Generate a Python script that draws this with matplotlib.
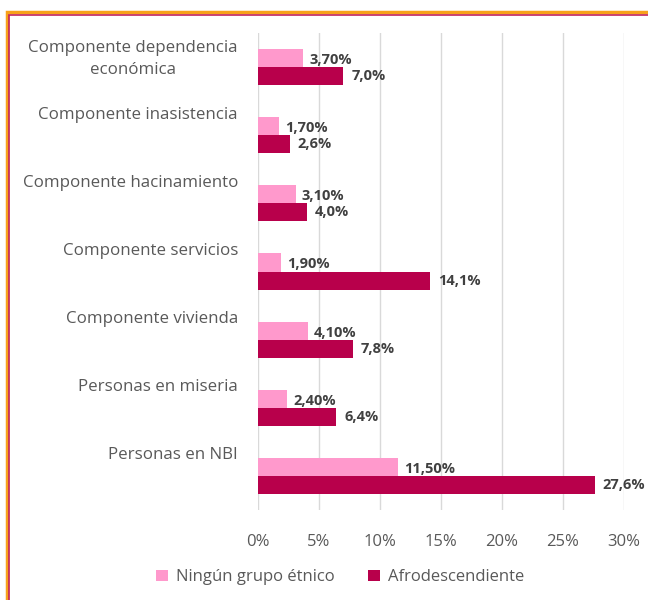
import matplotlib.pyplot as plt
import numpy as np
from matplotlib.patches import Rectangle
from matplotlib.transforms import blended_transform_factory, offset_copy

plt.rcParams['font.family'] = ['Open Sans', 'DejaVu Sans']

# datos
categorias = ['Componente dependencia\neconómica', 'Componente inasistencia',
              'Componente hacinamiento', 'Componente servicios',
              'Componente vivienda', 'Personas en miseria', 'Personas en NBI']
ninguno = [3.7, 1.7, 3.1, 1.9, 4.1, 2.4, 11.5]
afro = [7.0, 2.6, 4.0, 14.1, 7.8, 6.4, 27.6]
ticks = [0, 5, 10, 15, 20, 25, 30]

c_rosa = '#FF99CC'
c_afro = '#B8004B'

fig = plt.figure(figsize=(6.48, 6.0), dpi=100)
ax = fig.add_axes([0.398, 0.15, 0.565, 0.795])

y = np.arange(len(categorias))
h = 0.265
ax.barh(y - h / 2, ninguno, height=h, color=c_rosa, label='Ningún grupo étnico')
ax.barh(y + h / 2, afro, height=h, color=c_afro, label='Afrodescendiente')

# etiquetas de valores
for i in range(len(categorias)):
    t1 = offset_copy(ax.transData, fig=fig, x=6, y=-2, units='dots')
    ax.text(ninguno[i], y[i] - h / 2, f'{ninguno[i]:.2f}%'.replace('.', ','), transform=t1,
            ha='left', va='center', fontsize=10.5, fontweight='bold', color='#404040')
    t2 = offset_copy(ax.transData, fig=fig, x=8, y=0, units='dots')
    ax.text(afro[i], y[i] + h / 2, f'{afro[i]:.1f}%'.replace('.', ','), transform=t2,
            ha='left', va='center', fontsize=10.5, fontweight='bold', color='#404040')

ax.set_ylim(len(categorias) - 0.5, -0.5)
ax.set_xlim(0, 30)
ax.set_xticks(ticks)
ax.set_xticklabels([f'{t}%' for t in ticks], fontsize=12, color='#595959')
ax.tick_params(axis='x', length=0, pad=17)
ax.set_yticks([])
ax.grid(axis='x', color='#D9D9D9', linewidth=1)
ax.set_axisbelow(True)
for s in ax.spines.values():
    s.set_visible(False)

# nombres de categorías (desplazados hacia arriba como en el original)
tr = offset_copy(blended_transform_factory(ax.transAxes, ax.transData), fig=fig, x=-20, y=0, units='dots')
for i, cat in enumerate(categorias):
    off = 0.12 if '\n' in cat else 0.3
    ax.text(0, y[i] - off, cat, transform=tr, ha='right', va='center',
            multialignment='center', fontsize=12.2, color='#595959', linespacing=1.45)

fig.legend(loc='center', bbox_to_anchor=(0.525, 0.038), ncol=2, frameon=False,
           fontsize=12, handlelength=0.7, handleheight=0.7, columnspacing=2.0,
           handletextpad=0.5, labelcolor='#595959')

# marco del gráfico
fig.patches.append(Rectangle((0.011, -0.1), 1.1, 1.08, transform=fig.transFigure,
                             fill=False, edgecolor='#F7A11A', linewidth=2.5))
fig.patches.append(Rectangle((0.014, -0.1), 1.1, 1.075, transform=fig.transFigure,
                             fill=False, edgecolor='#C0245B', linewidth=1.2))

fig.savefig('out.png', dpi=100)
